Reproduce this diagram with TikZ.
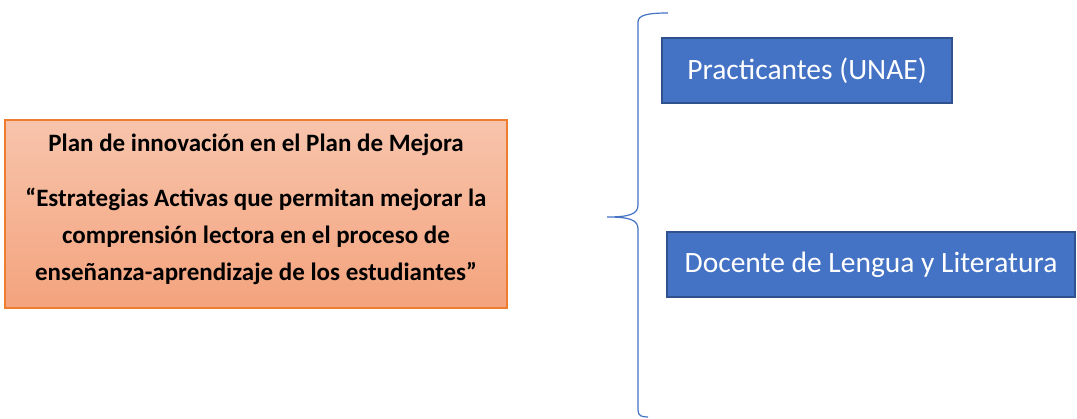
\documentclass[tikz,border=0pt]{standalone}
\usepackage{fontspec}
\setmainfont{Carlito}
\definecolor{boxblue}{HTML}{4472C4}
\definecolor{boxblueline}{HTML}{2F528F}
\definecolor{orangetop}{HTML}{F7C4AC}
\definecolor{orangebot}{HTML}{F4A37D}
\definecolor{orangeline}{HTML}{ED7D31}
\definecolor{braceblue}{HTML}{4472C4}
\tikzset{
  planbox/.style={draw=orangeline, line width=1.2pt, top color=orangetop, bottom color=orangebot,
    minimum width=502pt, minimum height=188pt, inner sep=0pt},
  plantext/.style={align=center, inner sep=0pt, font=\fontsize{25}{37}\selectfont\bfseries},
  actor/.style={draw=boxblueline, line width=1.5pt, fill=boxblue, text=white,
    minimum height=65pt, inner sep=0pt, font=\fontsize{29.5}{34}\selectfont},
  bracestyle/.style={draw=braceblue, line width=1.2pt}
}
\begin{document}
\begin{tikzpicture}[x=1pt,y=-1pt]
\useasboundingbox (0,0) rectangle (1077,419);
\node[planbox] (plan) at (256,214) {};
\node[plantext] (plantxt) at (256,209) {Plan de innovación en el Plan de Mejora\\[18pt]
“Estrategias Activas que permitan mejorar la\\
comprensión lectora en el proceso de\\
enseñanza-aprendizaje de los estudiantes”};
\node[actor, minimum width=290pt] (prac) at (807,70.5) {Practicantes (UNAE)};
\node[actor, minimum width=408pt] (doc) at (871,264.5) {Docente de Lengua y Literatura};
\coordinate (btop) at (668,13);
\coordinate (btip) at (607,217);
\coordinate (bbot) at (648,417);
\draw[bracestyle] (btop) .. controls (648,13) and (638,15) .. (638,22)
  -- (638,205) .. controls (638,214) and (630,217) .. (btip)
  .. controls (630,217) and (638,220) .. (638,229)
  -- (638,410) .. controls (638,416) and (642,417) .. (bbot);
\end{tikzpicture}
\end{document}
